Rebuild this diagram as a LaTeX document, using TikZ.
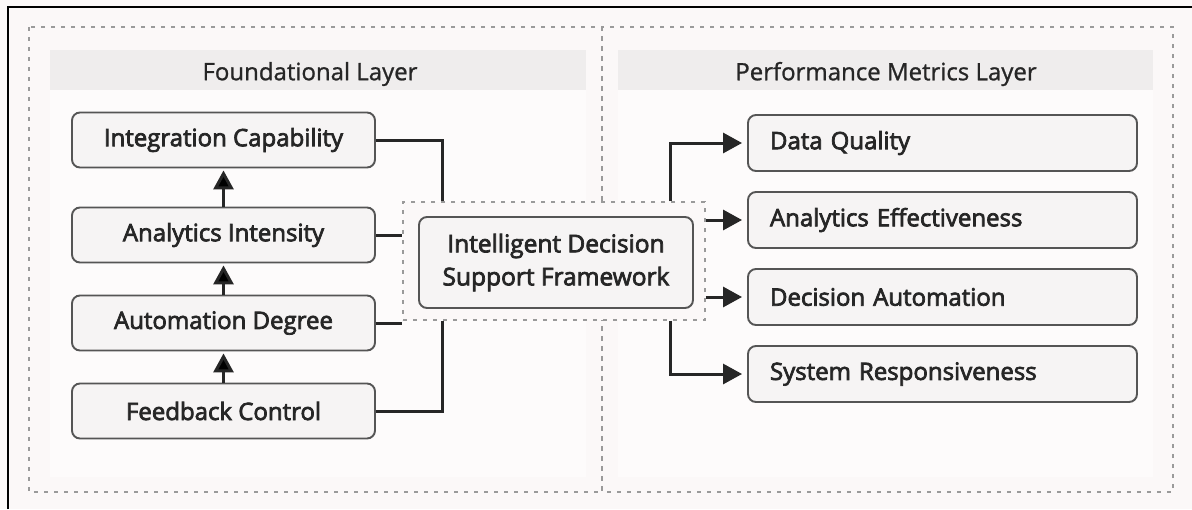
\documentclass[tikz,border=0pt]{standalone}
\usepackage{fontspec}
\setmainfont{Open Sans}
\newfontfamily\boxfont{Open Sans}[FakeBold = 3]
\newfontfamily\titlefont{Open Sans}[FakeBold = 1]
\usetikzlibrary{arrows.meta, positioning}

\definecolor{pagebg}{HTML}{FBF8F8}
\definecolor{bandgray}{HTML}{EFEDED}
\definecolor{panelbg}{HTML}{FDFBFB}
\definecolor{boxfill}{HTML}{F6F4F4}
\definecolor{boxline}{HTML}{555555}
\definecolor{dotgray}{HTML}{9A9A9A}
\definecolor{inkgray}{HTML}{262626}

\begin{document}
\begin{tikzpicture}[
        x = 1pt, y = -1pt,
        node distance = 88pt,
        on grid,
        >= {Triangle[length = 19pt, width = 20pt]},
        factor/.style = {draw = boxline, line width = 1.9pt, fill = boxfill, rounded corners = 8pt,
            minimum width = 303pt, minimum height = 55pt, text = inkgray,
            font = \boxfont\fontsize{24}{28}\selectfont},
        metric/.style = {factor, text width = 345pt, align = left, inner xsep = 22pt, minimum height = 56pt},
        core/.style = {factor, minimum width = 274pt, minimum height = 91pt, align = center,
            font = \boxfont\fontsize{24.5}{33}\selectfont},
        hub/.style = {draw = dotgray, line width = 1.4pt, dash pattern = on 4pt off 6pt, fill = pagebg,
            minimum width = 302pt, minimum height = 118pt},
        layer/.style = {draw = dotgray, line width = 1.4pt, dash pattern = on 4pt off 6pt},
        layertitle/.style = {text = inkgray, font = \titlefont\fontsize{24}{28}\selectfont},
        link/.style = {draw = inkgray, line width = 3pt}
    ]

        % page and outer frame
        \fill[pagebg] (0,0) rectangle (1192,509);
        \useasboundingbox (0,0) rectangle (1192,509);
        \draw[line width = 2.5pt] (8,509) -- (8,7) -- (1192,7);

        % the two layers
        \fill[panelbg] (50,90) rectangle (586,477);
        \fill[bandgray] (50,50) rectangle (586,90);
        \fill[panelbg] (618,90) rectangle (1153,477);
        \fill[bandgray] (618,50) rectangle (1153,90);
        \draw[layer] (29,27) rectangle (602,492);
        \draw[layer] (602,27) rectangle (1173,492);

        \node[layertitle] (fndtitle) at (310,74) {Foundational Layer};
        \node[layertitle] (pmtitle) at (886,74) {Performance Metrics Layer};

        % foundational factors
        \node[factor] (anint) at (223.5,235) {Analytics Intensity};
        \node[factor] (intcap) [above = 95pt of anint] {Integration Capability};
        \node[factor] (autdeg) [below = of anint] {Automation Degree};
        \node[factor] (fbctrl) [below = of autdeg] {Feedback Control};

        % framework in the middle
        \node[hub] (idsfbox) at (554,261) {};
        \node[core] (idsf) at (556,262.5) {Intelligent Decision\\Support Framework};

        % metrics
        \node[metric] (dq) at (942.5,143) {Data Quality};
        \node[metric] (ae) [below = 77pt of dq] {Analytics Effectiveness};
        \node[metric] (da) [below = 77pt of ae] {Decision Automation};
        \node[metric] (sr) [below = 77pt of da] {System Responsiveness};

        \path[link, ->, shorten >= 2pt]
            (fbctrl) edge (autdeg)
            (autdeg) edge (anint)
            (anint) edge (intcap);

        \draw[link] (intcap.east) -| ([xshift = 40pt]idsfbox.north west);
        \draw[link] (anint.east) -- (anint.east -| idsfbox.west);
        \draw[link] (autdeg.east) -- (autdeg.east -| idsfbox.west);
        \draw[link] (fbctrl.east) -| ([xshift = 40pt]idsfbox.south west);

        \draw[link, ->, shorten >= 5pt] ([xshift = -35pt]idsfbox.north east) |- (dq.west);
        \draw[link, ->, shorten >= 5pt] (idsfbox.east |- ae.west) -- (ae.west);
        \draw[link, ->, shorten >= 5pt] (idsfbox.east |- da.west) -- (da.west);
        \draw[link, ->, shorten >= 5pt] ([xshift = -35pt]idsfbox.south east) |- (sr.west);

\end{tikzpicture}
\end{document}
